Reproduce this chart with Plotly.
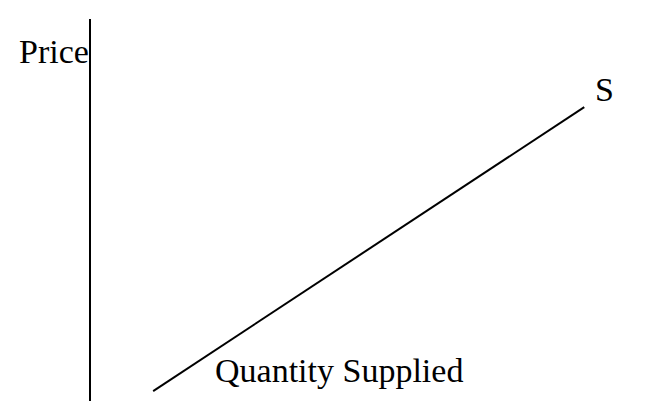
import plotly.graph_objects as go

# Data (conceptual supply curve)
quantity = [1.1, 8.73]
price = [0.46, 7.74]
curve_label = "S"
x_title = "Quantity Supplied"
y_title = "Price"

FONT = dict(family="Liberation Serif, Times New Roman, serif", size=34, color="black")

fig = go.Figure()
fig.add_trace(go.Scatter(
    x=quantity, y=price, mode="lines",
    line=dict(color="black", width=2),
    hoverinfo="skip", showlegend=False,
))

fig.update_layout(
    width=648, height=401,
    margin=dict(l=83, r=0, t=11, b=0),
    paper_bgcolor="white", plot_bgcolor="white",
    xaxis=dict(range=[0, 10], showgrid=False, zeroline=False, showticklabels=False,
               ticks="", showline=False),
    yaxis=dict(range=[0, 10], showgrid=False, zeroline=False, showticklabels=False,
               ticks="", showline=True, linecolor="black", linewidth=2),
    annotations=[
        dict(text=y_title, xref="paper", yref="y", x=0, y=9.17, xanchor="right",
             yanchor="middle", showarrow=False, font=FONT, xshift=0),
        dict(text=curve_label, xref="x", yref="y", x=9.09, y=8.19, xanchor="center",
             yanchor="middle", showarrow=False, font=FONT),
        dict(text=x_title, xref="x", yref="y", x=2.16, y=0.99, xanchor="left",
             yanchor="middle", showarrow=False, font=FONT),
    ],
)

fig.write_html("out.html")
